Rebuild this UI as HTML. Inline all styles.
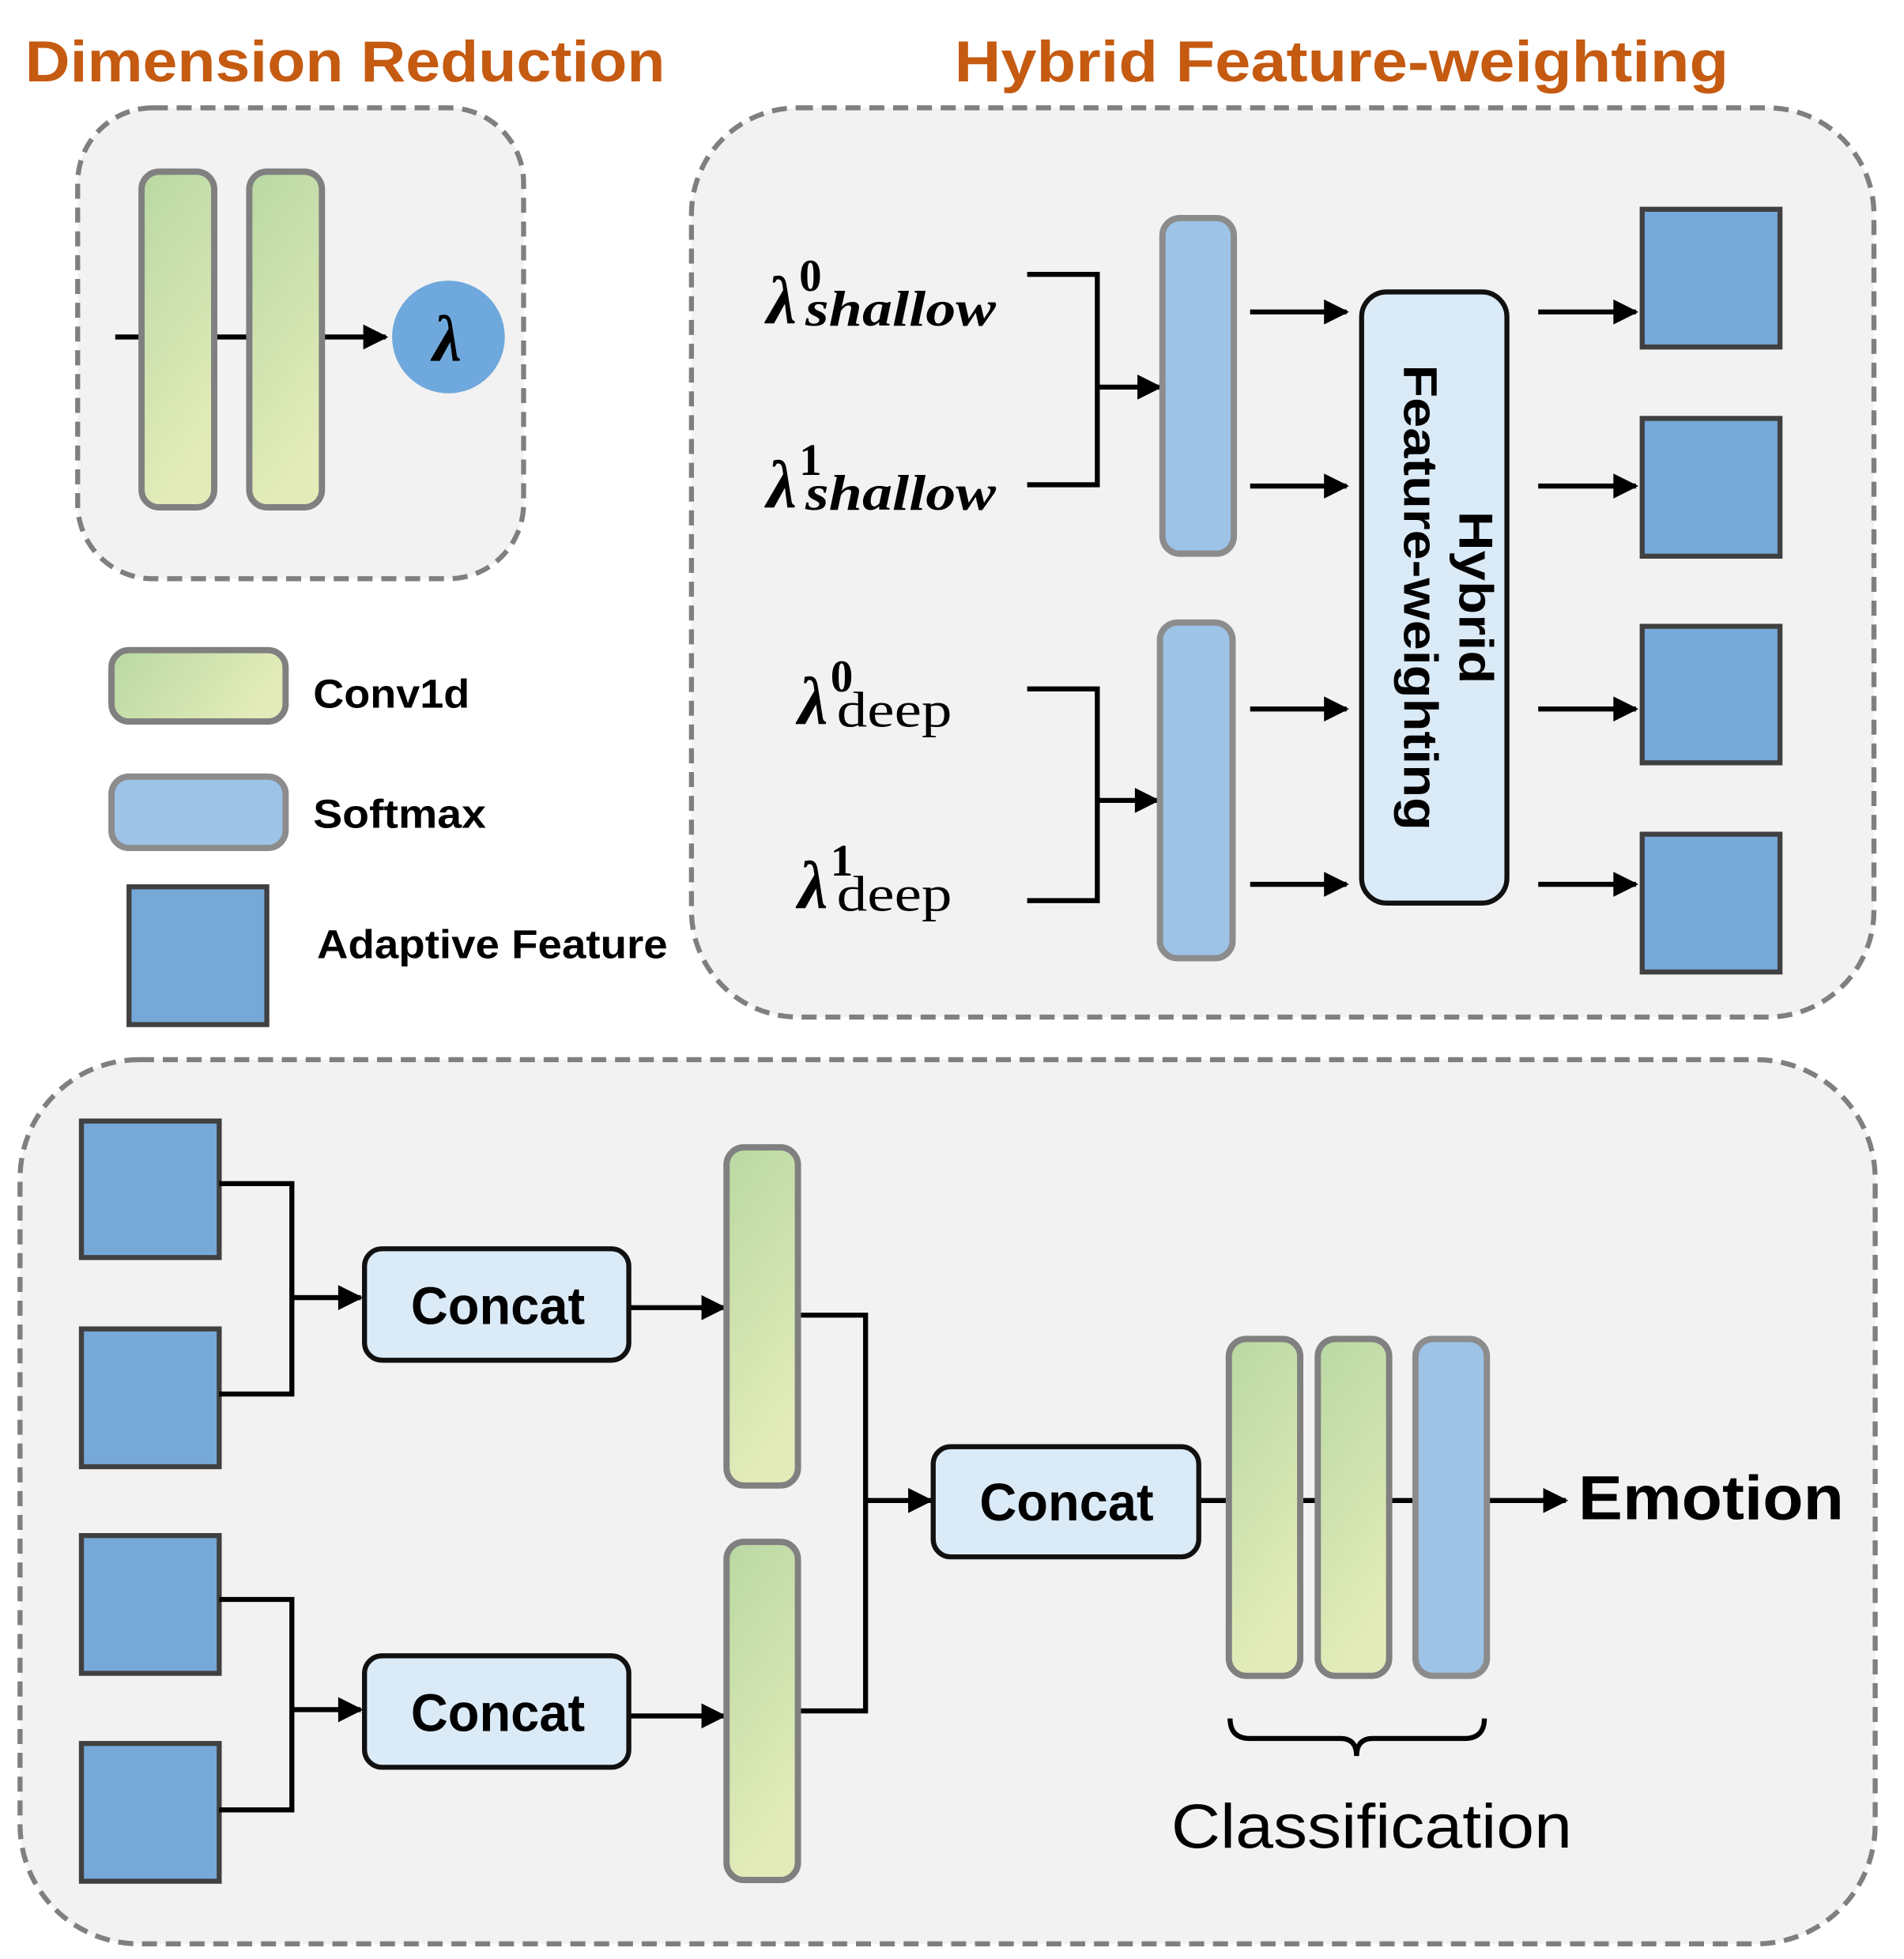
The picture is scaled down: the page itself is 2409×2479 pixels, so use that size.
<!DOCTYPE html>
<html><head><meta charset="utf-8"><style>
html,body{margin:0;padding:0;background:#fff}
svg{display:block}
text{font-family:"Liberation Sans",sans-serif}
text.s{font-family:"Liberation Serif","DejaVu Serif",serif}
</style></head><body>
<svg width="2409" height="2479" viewBox="0 0 1520 1564" xmlns="http://www.w3.org/2000/svg">
<defs>
<linearGradient id="g" x1="0" y1="0" x2="0.3" y2="1"><stop offset="0" stop-color="#b9d8a3"/><stop offset="1" stop-color="#e3ecb9"/></linearGradient>
<linearGradient id="gh" x1="0" y1="0" x2="1" y2="0.3"><stop offset="0" stop-color="#b9d8a3"/><stop offset="1" stop-color="#e3ecb9"/></linearGradient>
<marker id="A" viewBox="0 0 10 10" refX="9" refY="5" markerWidth="22" markerHeight="20" orient="auto" markerUnits="userSpaceOnUse"><path d="M0,0L10,5L0,10z" fill="#000"/></marker>
</defs>
<g font-weight="bold" fill="#C55A11" font-size="46">
<text x="20" y="65" textLength="511" lengthAdjust="spacingAndGlyphs">Dimension Reduction</text>
<text x="762" y="65" textLength="618" lengthAdjust="spacingAndGlyphs">Hybrid Feature-weighting</text>
<text x="973" y="910" textLength="439" lengthAdjust="spacingAndGlyphs">Deep Fusion Block</text>
</g>
<g fill="#f2f2f2" stroke="#7f7f7f" stroke-width="4" stroke-dasharray="12,7">
<rect x="62" y="86" width="356" height="376" rx="60"/>
<rect x="552" y="86" width="944" height="726" rx="85"/>
<rect x="16" y="846" width="1481" height="706" rx="95"/>
</g>
<line x1="92" y1="269" x2="308" y2="269" stroke="#000" stroke-width="4" marker-end="url(#A)"/>
<g stroke="#808080" stroke-width="5" fill="url(#g)">
<rect x="113" y="137" width="58" height="268" rx="14"/>
<rect x="199" y="137" width="58" height="268" rx="14"/>
</g>
<circle cx="358" cy="269" r="45" fill="#6fa8dc"/>
<text class="s" x="357" y="288" text-anchor="middle" font-style="italic" font-weight="bold" font-size="52" fill="#000">λ</text>
<rect x="89" y="519" width="139" height="57" rx="14" fill="url(#gh)" stroke="#808080" stroke-width="5"/>
<rect x="89" y="620" width="139" height="57" rx="14" fill="#9dc3e6" stroke="#8c8c8c" stroke-width="5"/>
<rect x="103" y="708" width="110" height="110" fill="#76a8d8" stroke="#404040" stroke-width="4"/>
<g font-weight="bold" font-size="32" fill="#000">
<text x="250" y="565" textLength="125" lengthAdjust="spacingAndGlyphs">Conv1d</text>
<text x="250" y="661" textLength="138" lengthAdjust="spacingAndGlyphs">Softmax</text>
<text x="253" y="765" textLength="280" lengthAdjust="spacingAndGlyphs">Adaptive Feature</text>
</g>
<g font-weight="bold" fill="#000">
<text class="s" x="612" y="258" font-size="54" font-style="italic">λ<tspan font-size="36" dx="2" dy="-26" font-style="normal">0</tspan></text>
<text class="s" x="643" y="260" font-size="40" font-weight="bold" font-style="italic" textLength="152" lengthAdjust="spacingAndGlyphs">shallow</text>
<text class="s" x="612" y="405" font-size="54" font-style="italic">λ<tspan font-size="36" dx="2" dy="-26" font-style="normal">1</tspan></text>
<text class="s" x="643" y="407" font-size="40" font-weight="bold" font-style="italic" textLength="152" lengthAdjust="spacingAndGlyphs">shallow</text>
<text class="s" x="637" y="578" font-size="54" font-style="italic">λ<tspan font-size="36" dx="2" dy="-26" font-style="normal">0</tspan></text>
<text class="s" x="668" y="580" font-size="40" font-weight="normal" textLength="92" lengthAdjust="spacingAndGlyphs">deep</text>
<text class="s" x="637" y="725" font-size="54" font-style="italic">λ<tspan font-size="36" dx="2" dy="-26" font-style="normal">1</tspan></text>
<text class="s" x="668" y="727" font-size="40" font-weight="normal" textLength="92" lengthAdjust="spacingAndGlyphs">deep</text>
</g>
<g stroke="#000" stroke-width="4" fill="none">
<polyline points="820,219 876,219 876,387 820,387"/>
<polyline points="820,550 876,550 876,719 820,719"/>
<line x1="876" y1="309" x2="926" y2="309" marker-end="url(#A)"/>
<line x1="876" y1="639" x2="924" y2="639" marker-end="url(#A)"/>
<line x1="998" y1="249" x2="1075" y2="249" marker-end="url(#A)"/>
<line x1="998" y1="388" x2="1075" y2="388" marker-end="url(#A)"/>
<line x1="998" y1="566" x2="1075" y2="566" marker-end="url(#A)"/>
<line x1="998" y1="706" x2="1075" y2="706" marker-end="url(#A)"/>
<line x1="1228" y1="249" x2="1306" y2="249" marker-end="url(#A)"/>
<line x1="1228" y1="388" x2="1306" y2="388" marker-end="url(#A)"/>
<line x1="1228" y1="566" x2="1306" y2="566" marker-end="url(#A)"/>
<line x1="1228" y1="706" x2="1306" y2="706" marker-end="url(#A)"/>
</g>
<g fill="#9dc3e6" stroke="#8c8c8c" stroke-width="5">
<rect x="928" y="174" width="57" height="268" rx="14"/>
<rect x="926" y="497" width="58" height="268" rx="14"/>
</g>
<rect x="1087" y="233" width="116" height="488" rx="20" fill="#dbeaf7" stroke="#111" stroke-width="4"/>
<g transform="translate(1145,477) rotate(90)" font-weight="bold" font-size="38" text-anchor="middle" fill="#000">
<text x="0" y="-20" textLength="138" lengthAdjust="spacingAndGlyphs">Hybrid</text>
<text x="0" y="24" textLength="372" lengthAdjust="spacingAndGlyphs">Feature-weighting</text>
</g>
<g fill="#76a8d8" stroke="#404040" stroke-width="4">
<rect x="1311" y="167" width="110" height="110"/>
<rect x="1311" y="334" width="110" height="110"/>
<rect x="1311" y="500" width="110" height="109"/>
<rect x="1311" y="666" width="110" height="110"/>
<rect x="65" y="895" width="110" height="109"/>
<rect x="65" y="1061" width="110" height="110"/>
<rect x="65" y="1226" width="110" height="110"/>
<rect x="65" y="1392" width="110" height="110"/>
</g>
<g stroke="#000" stroke-width="4" fill="none">
<polyline points="175,945 233,945 233,1113 175,1113"/>
<polyline points="175,1277 233,1277 233,1445 175,1445"/>
<line x1="233" y1="1036" x2="288" y2="1036" marker-end="url(#A)"/>
<line x1="233" y1="1365" x2="288" y2="1365" marker-end="url(#A)"/>
<line x1="502" y1="1044" x2="578" y2="1044" marker-end="url(#A)"/>
<line x1="502" y1="1370" x2="578" y2="1370" marker-end="url(#A)"/>
<polyline points="637,1050 691,1050 691,1366 637,1366"/>
<line x1="691" y1="1198" x2="743" y2="1198" marker-end="url(#A)"/>
<line x1="957" y1="1198" x2="1250" y2="1198" marker-end="url(#A)"/>
<path d="M982,1372 Q982,1388 998,1388 L1070,1388 Q1083,1388 1083,1402 Q1083,1388 1096,1388 L1169,1388 Q1185,1388 1185,1372"/>
</g>
<g fill="#dbeaf7" stroke="#111" stroke-width="4">
<rect x="291" y="997" width="211" height="89" rx="14"/>
<rect x="291" y="1322" width="211" height="89" rx="14"/>
<rect x="745" y="1155" width="212" height="88" rx="14"/>
</g>
<g font-weight="bold" font-size="42" fill="#000">
<text x="328" y="1057" textLength="139" lengthAdjust="spacingAndGlyphs">Concat</text>
<text x="328" y="1382" textLength="139" lengthAdjust="spacingAndGlyphs">Concat</text>
<text x="782" y="1214" textLength="139" lengthAdjust="spacingAndGlyphs">Concat</text>
</g>
<g stroke="#808080" stroke-width="5" fill="url(#g)">
<rect x="580" y="916" width="57" height="270" rx="14"/>
<rect x="580" y="1231" width="57" height="270" rx="14"/>
<rect x="981" y="1069" width="57" height="269" rx="14"/>
<rect x="1052" y="1069" width="57" height="269" rx="14"/>
</g>
<rect x="1130" y="1069" width="57" height="269" rx="14" fill="#9dc3e6" stroke="#8c8c8c" stroke-width="5"/>
<text x="1260" y="1213" font-weight="bold" font-size="50" fill="#000" textLength="212" lengthAdjust="spacingAndGlyphs">Emotion</text>
<text x="935" y="1475" font-size="50" fill="#000" textLength="320" lengthAdjust="spacingAndGlyphs">Classification</text>
</svg>
</body></html>
